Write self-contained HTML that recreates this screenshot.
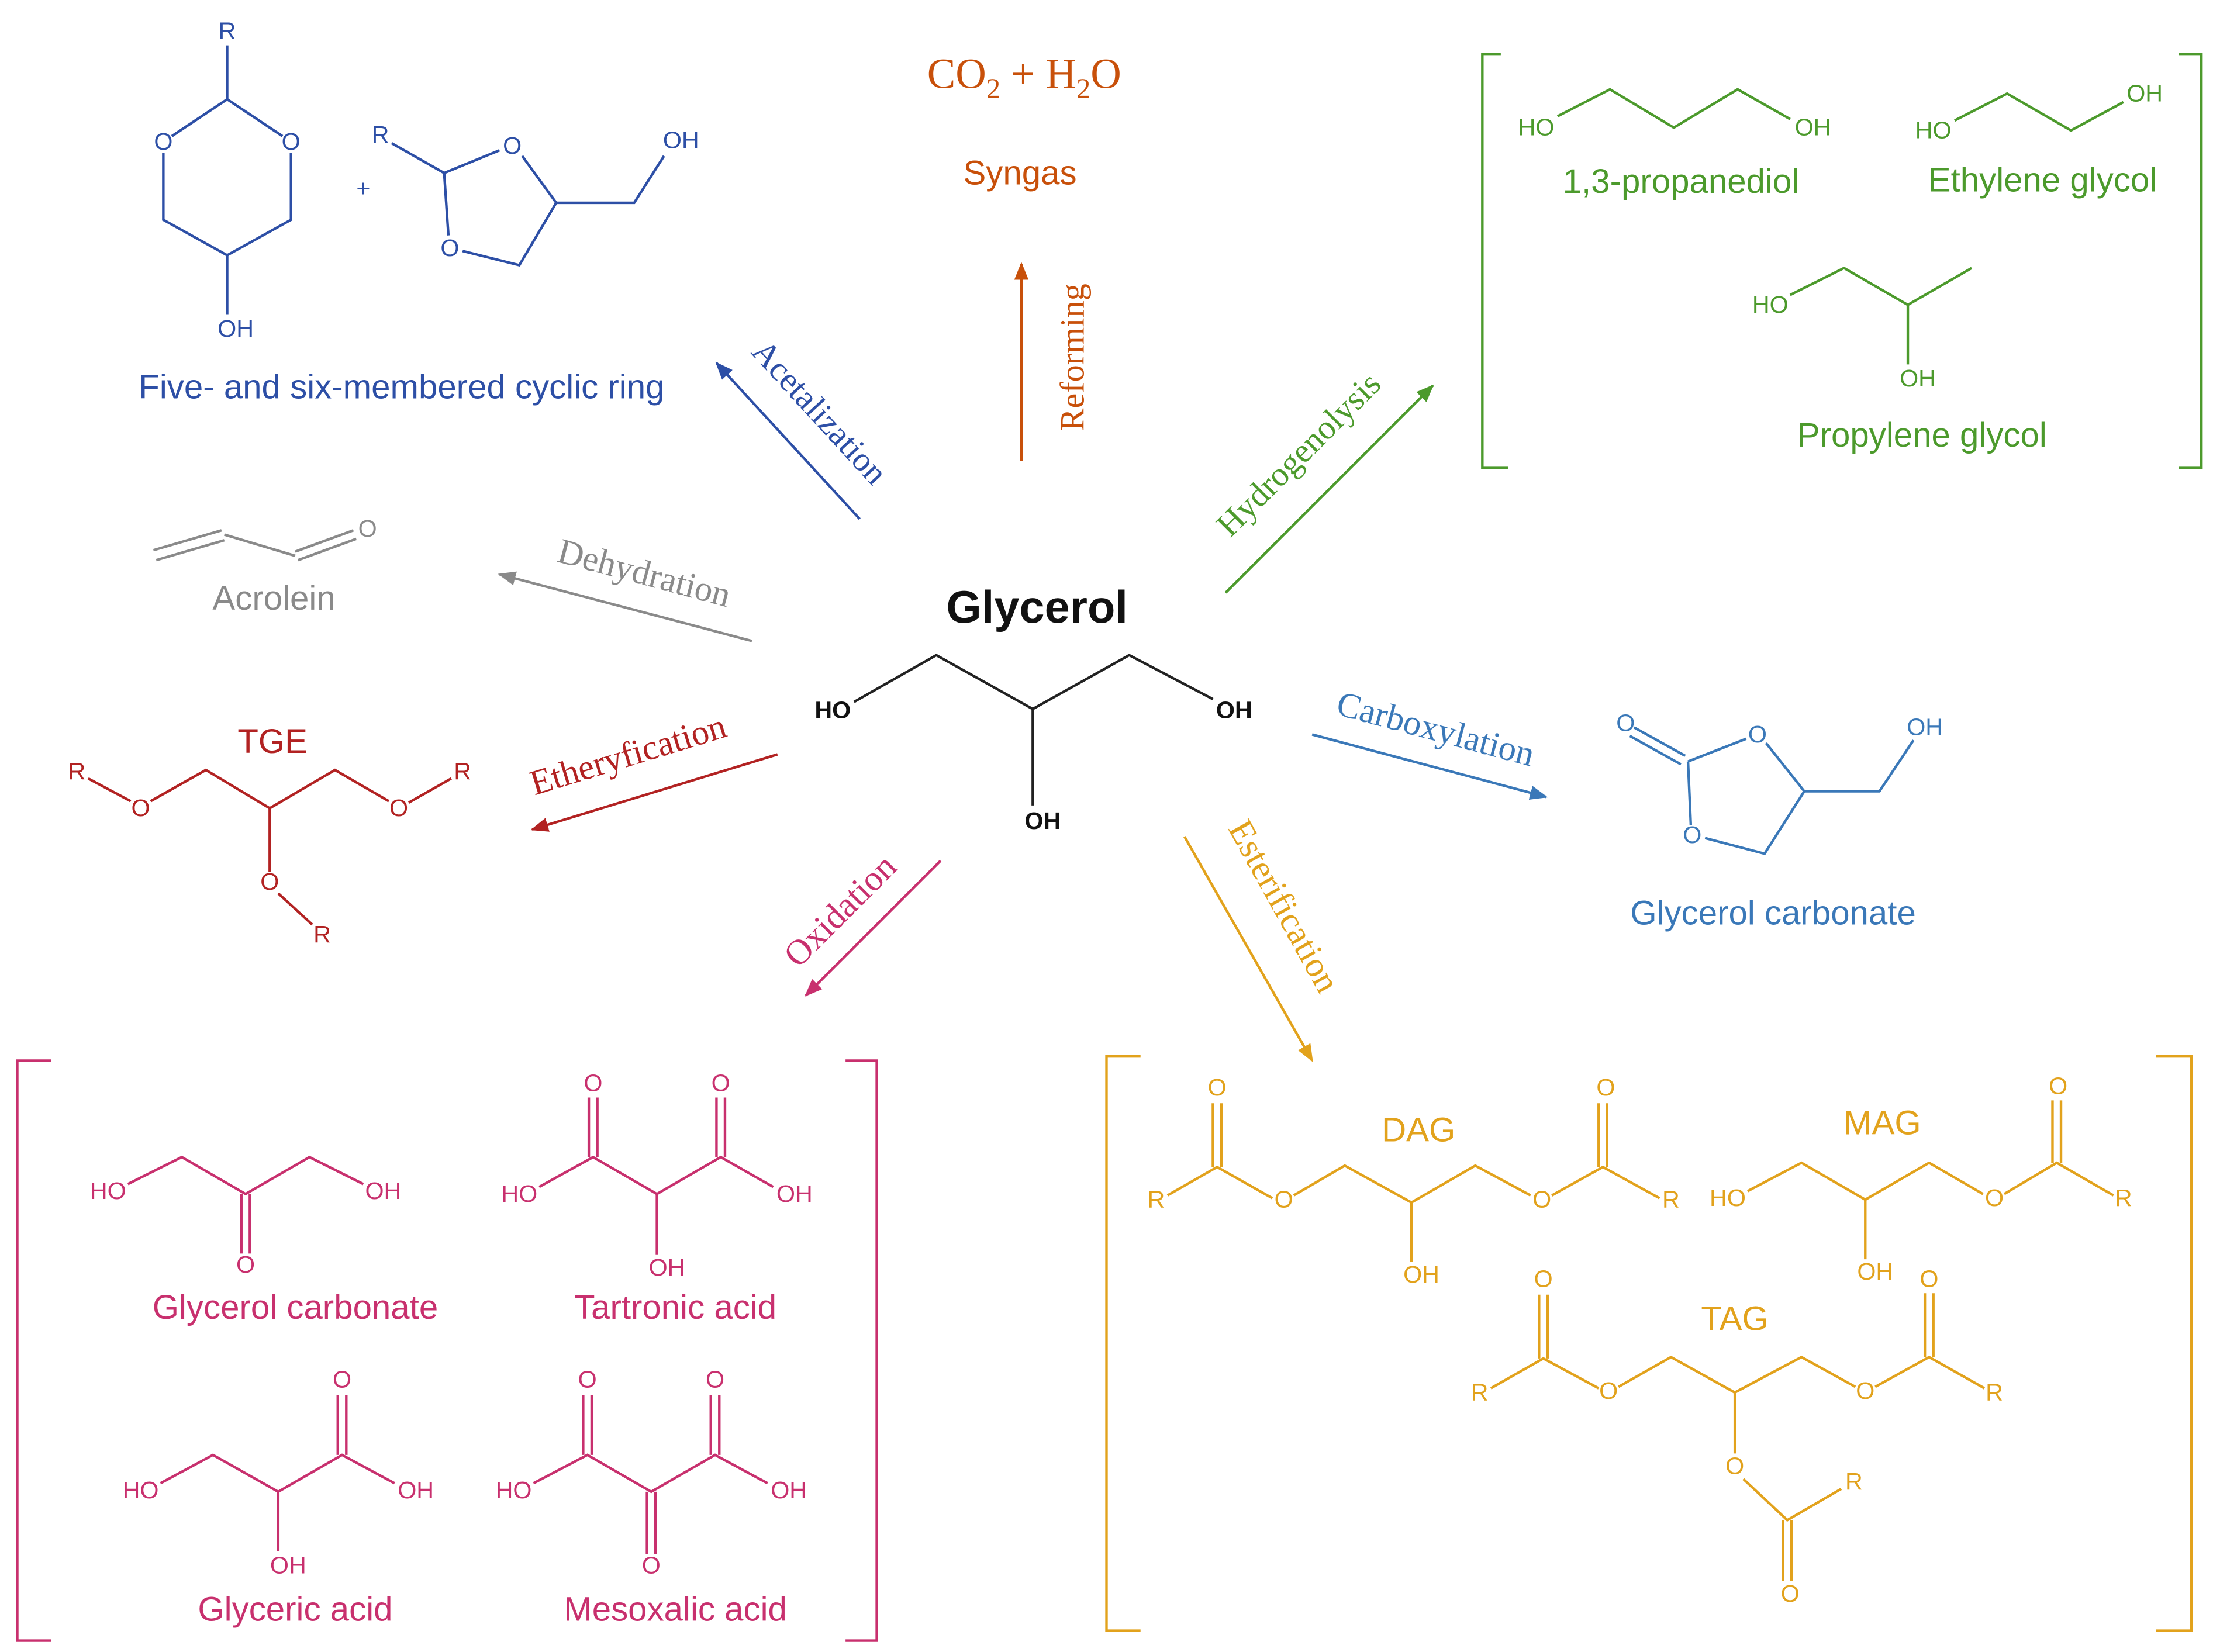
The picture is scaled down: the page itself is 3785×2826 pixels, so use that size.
<!DOCTYPE html>
<html><head><meta charset="utf-8"><style>
html,body{margin:0;padding:0;background:#fff;width:3785px;height:2826px;overflow:hidden}
svg{display:block}
text{font-family:"Liberation Sans",sans-serif}
.s{font-family:"Liberation Serif",serif}
.a{font-size:17px;text-anchor:middle;dominant-baseline:middle}
.l{font-size:24px;text-anchor:middle}
</style></head><body>
<svg width="3785" height="2826" viewBox="0 0 1560 1165" xmlns="http://www.w3.org/2000/svg">
<defs>
<marker id="ah" viewBox="0 0 10 10" refX="9" refY="5" markerWidth="7" markerHeight="7" orient="auto-start-reverse"><path d="M0,1 L10,5 L0,9 z" fill="context-stroke"/></marker>
</defs>
<rect width="1560" height="1165" fill="#fff"/>

<!-- Acetalization (blue) -->
<g stroke="#2d4fa6" stroke-width="1.8" fill="none">
<line x1="160" y1="32" x2="160" y2="70"/>
<polyline points="160,70 199,96"/><polyline points="205,108 205,155 160,180 115,155 115,108"/><polyline points="121,96 160,70"/>
<line x1="160" y1="180" x2="160" y2="222"/>
<polyline points="276,101 313,122 352,106"/><polyline points="368,110 392,143 366,187 326,177"/><line x1="316" y1="166" x2="313" y2="122"/>
<polyline points="392,143 447,143 468,110"/>
<line x1="606" y1="366" x2="505" y2="256" marker-end="url(#ah)"/>
</g>
<g fill="#2d4fa6">
<text x="160" y="23" class="a">R</text><text x="205" y="101" class="a">O</text><text x="115" y="101" class="a">O</text><text x="166" y="233" class="a">OH</text>
<text x="256" y="134" class="a">+</text><text x="268" y="96" class="a">R</text><text x="361" y="104" class="a">O</text><text x="317" y="176" class="a">O</text><text x="480" y="100" class="a">OH</text>
<text x="283" y="281" class="l">Five- and six-membered cyclic ring</text>
<text class="s" font-size="24" transform="translate(572,296) rotate(47.5)" text-anchor="middle">Acetalization</text>
</g>

<!-- Syngas (orange) -->
<g fill="#c8500a">
<text x="722" y="62" class="s" font-size="30" text-anchor="middle">CO<tspan font-size="20" dy="7">2</tspan><tspan dy="-7"> + H</tspan><tspan font-size="20" dy="7">2</tspan><tspan dy="-7">O</tspan></text>
<text x="719" y="130" class="l">Syngas</text>
<text class="s" font-size="24" transform="translate(764,252) rotate(-90)" text-anchor="middle">Reforming</text>
</g>
<line x1="720" y1="325" x2="720" y2="186" stroke="#c8500a" stroke-width="1.8" marker-end="url(#ah)"/>

<!-- Hydrogenolysis (green) -->
<g stroke="#4c9a2c" stroke-width="1.8" fill="none">
<polyline points="1058,38 1045,38 1045,330 1063,330"/><polyline points="1536,38 1552,38 1552,330 1536,330"/>
<polyline points="1098,82 1135,63 1180,90 1225,63 1262,84"/>
<polyline points="1378,85 1415,66 1460,92 1497,72"/>
<polyline points="1262,208 1300,189 1345,215 1390,189"/><line x1="1345" y1="215" x2="1345" y2="257"/>
<line x1="864" y1="418" x2="1010" y2="272" marker-end="url(#ah)"/>
</g>
<g fill="#4c9a2c">
<text x="1083" y="91" class="a">HO</text><text x="1278" y="91" class="a">OH</text>
<text x="1363" y="93" class="a">HO</text><text x="1512" y="67" class="a">OH</text>
<text x="1248" y="216" class="a">HO</text><text x="1352" y="268" class="a">OH</text>
<text x="1185" y="136" class="l">1,3-propanediol</text><text x="1440" y="135" class="l">Ethylene glycol</text><text x="1355" y="315" class="l">Propylene glycol</text>
<text class="s" font-size="24" transform="translate(921,326) rotate(-45)" text-anchor="middle">Hydrogenolysis</text>
</g>

<!-- Dehydration (gray) -->
<g stroke="#8a8a8a" stroke-width="1.8" fill="none">
<line x1="108" y1="388" x2="156" y2="374"/><line x1="110" y1="395" x2="158" y2="381"/>
<line x1="158" y1="377" x2="208" y2="392"/>
<line x1="208" y1="389" x2="249" y2="374"/><line x1="210" y1="395" x2="251" y2="380"/>
<line x1="530" y1="452" x2="352" y2="405" marker-end="url(#ah)"/>
</g>
<g fill="#8a8a8a">
<text x="259" y="374" class="a">O</text>
<text x="193" y="430" class="l">Acrolein</text>
<text class="s" font-size="25" transform="translate(452,412) rotate(15)" text-anchor="middle">Dehydration</text>
</g>

<!-- Glycerol -->
<text x="731" y="439" font-size="32" font-weight="bold" text-anchor="middle" fill="#111">Glycerol</text>
<g stroke="#222" stroke-width="1.8" fill="none">
<polyline points="602,495 660,462 728,500 796,462 855,493"/><line x1="728" y1="500" x2="728" y2="568"/>
</g>
<g fill="#111" font-weight="bold"><text x="587" y="502" class="a">HO</text><text x="870" y="502" class="a">OH</text><text x="735" y="580" class="a">OH</text></g>

<!-- TGE (dark red) -->
<g stroke="#b22222" stroke-width="1.8" fill="none">
<line x1="62" y1="549" x2="92" y2="565"/><polyline points="106,565 145,543 190,570 236,543 274,565"/><line x1="288" y1="566" x2="318" y2="549"/>
<line x1="190" y1="570" x2="190" y2="615"/><line x1="196" y1="630" x2="220" y2="652"/>
<line x1="548" y1="532" x2="375" y2="585" marker-end="url(#ah)"/>
</g>
<g fill="#b22222">
<text x="54" y="545" class="a">R</text><text x="99" y="571" class="a">O</text><text x="281" y="571" class="a">O</text><text x="326" y="545" class="a">R</text><text x="190" y="623" class="a">O</text><text x="227" y="660" class="a">R</text>
<text x="192" y="531" class="l">TGE</text>
<text class="s" font-size="25" transform="translate(445,540) rotate(-17)" text-anchor="middle">Etheryfication</text>
</g>

<!-- Carboxylation (steel blue) -->
<g stroke="#3a78b8" stroke-width="1.8" fill="none">
<line x1="1152" y1="513" x2="1188" y2="533"/><line x1="1149" y1="519" x2="1185" y2="539"/>
<line x1="1190" y1="537" x2="1231" y2="521"/><polyline points="1245,524 1272,558 1325,558 1349,522"/>
<polyline points="1272,558 1244,602 1202,591"/><line x1="1192" y1="582" x2="1190" y2="537"/>
<line x1="925" y1="518" x2="1090" y2="562" marker-end="url(#ah)"/>
</g>
<g fill="#3a78b8">
<text x="1146" y="511" class="a">O</text><text x="1239" y="519" class="a">O</text><text x="1193" y="590" class="a">O</text><text x="1357" y="514" class="a">OH</text>
<text x="1250" y="652" class="l">Glycerol carbonate</text>
<text class="s" font-size="25" transform="translate(1010,522) rotate(15)" text-anchor="middle">Carboxylation</text>
</g>

<!-- Oxidation (magenta) -->
<g stroke="#c8306e" stroke-width="1.8" fill="none">
<polyline points="36,748 12,748 12,1157 36,1157"/><polyline points="596,748 618,748 618,1157 596,1157"/>
<polyline points="90,835 128,816 173,842 218,816 256,835"/><line x1="170" y1="842" x2="170" y2="884"/><line x1="176" y1="842" x2="176" y2="884"/>
<polyline points="380,837 418,816 463,842 508,816 545,837"/>
<line x1="415" y1="816" x2="415" y2="774"/><line x1="421" y1="816" x2="421" y2="774"/>
<line x1="505" y1="816" x2="505" y2="774"/><line x1="511" y1="816" x2="511" y2="774"/>
<line x1="463" y1="842" x2="463" y2="885"/>
<polyline points="113,1046 150,1026 196,1052 241,1026 278,1046"/>
<line x1="238" y1="1026" x2="238" y2="984"/><line x1="244" y1="1026" x2="244" y2="984"/><line x1="196" y1="1052" x2="196" y2="1094"/>
<polyline points="376,1046 414,1026 459,1052 504,1026 541,1046"/>
<line x1="411" y1="1026" x2="411" y2="984"/><line x1="417" y1="1026" x2="417" y2="984"/>
<line x1="501" y1="1026" x2="501" y2="984"/><line x1="507" y1="1026" x2="507" y2="984"/>
<line x1="456" y1="1052" x2="456" y2="1096"/><line x1="462" y1="1052" x2="462" y2="1096"/>
<line x1="663" y1="607" x2="568" y2="702" marker-end="url(#ah)"/>
</g>
<g fill="#c8306e">
<text x="76" y="841" class="a">HO</text><text x="270" y="841" class="a">OH</text><text x="173" y="893" class="a">O</text>
<text x="366" y="843" class="a">HO</text><text x="560" y="843" class="a">OH</text><text x="418" y="765" class="a">O</text><text x="508" y="765" class="a">O</text><text x="470" y="895" class="a">OH</text>
<text x="99" y="1052" class="a">HO</text><text x="293" y="1052" class="a">OH</text><text x="241" y="974" class="a">O</text><text x="203" y="1105" class="a">OH</text>
<text x="362" y="1052" class="a">HO</text><text x="556" y="1052" class="a">OH</text><text x="414" y="974" class="a">O</text><text x="504" y="974" class="a">O</text><text x="459" y="1105" class="a">O</text>
<text x="208" y="930" class="l">Glycerol carbonate</text><text x="476" y="930" class="l">Tartronic acid</text>
<text x="208" y="1143" class="l">Glyceric acid</text><text x="476" y="1143" class="l">Mesoxalic acid</text>
<text class="s" font-size="25" transform="translate(598,648) rotate(-45)" text-anchor="middle">Oxidation</text>
</g>

<!-- Esterification (yellow-orange) -->
<g stroke="#e2a21c" stroke-width="1.8" fill="none">
<polyline points="804,745 780,745 780,1150 804,1150"/><polyline points="1520,745 1545,745 1545,1150 1520,1150"/>
<polyline points="823,843 858,823 897,845"/><line x1="855" y1="823" x2="855" y2="778"/><line x1="861" y1="823" x2="861" y2="778"/>
<polyline points="912,843 948,822 995,848 1040,822 1079,843"/><line x1="995" y1="848" x2="995" y2="890"/>
<polyline points="1094,843 1130,823 1170,845"/><line x1="1127" y1="823" x2="1127" y2="778"/><line x1="1133" y1="823" x2="1133" y2="778"/>
<polyline points="1232,840 1270,820 1315,846 1360,820 1398,842"/><line x1="1315" y1="846" x2="1315" y2="888"/>
<polyline points="1413,842 1450,820 1490,843"/><line x1="1447" y1="820" x2="1447" y2="776"/><line x1="1453" y1="820" x2="1453" y2="776"/>
<polyline points="1051,979 1088,958 1127,979"/><line x1="1085" y1="958" x2="1085" y2="913"/><line x1="1091" y1="958" x2="1091" y2="913"/>
<polyline points="1141,978 1178,957 1223,982 1270,957 1308,978"/><line x1="1223" y1="982" x2="1223" y2="1025"/>
<polyline points="1322,978 1360,957 1399,979"/><line x1="1357" y1="957" x2="1357" y2="912"/><line x1="1363" y1="957" x2="1363" y2="912"/>
<polyline points="1229,1043 1260,1072 1298,1050"/><line x1="1257" y1="1072" x2="1257" y2="1115"/><line x1="1263" y1="1072" x2="1263" y2="1115"/>
<line x1="835" y1="590" x2="925" y2="748" marker-end="url(#ah)"/>
</g>
<g fill="#e2a21c">
<text x="815" y="847" class="a">R</text><text x="858" y="768" class="a">O</text><text x="905" y="847" class="a">O</text><text x="1087" y="847" class="a">O</text><text x="1132" y="768" class="a">O</text><text x="1178" y="847" class="a">R</text><text x="1002" y="900" class="a">OH</text>
<text x="1218" y="846" class="a">HO</text><text x="1406" y="846" class="a">O</text><text x="1451" y="767" class="a">O</text><text x="1497" y="846" class="a">R</text><text x="1322" y="898" class="a">OH</text>
<text x="1043" y="983" class="a">R</text><text x="1088" y="903" class="a">O</text><text x="1134" y="982" class="a">O</text><text x="1315" y="982" class="a">O</text><text x="1360" y="903" class="a">O</text><text x="1406" y="983" class="a">R</text>
<text x="1223" y="1035" class="a">O</text><text x="1307" y="1046" class="a">R</text><text x="1262" y="1125" class="a">O</text>
<text x="1000" y="805" class="l">DAG</text><text x="1327" y="800" class="l">MAG</text><text x="1223" y="938" class="l">TAG</text>
<text class="s" font-size="25" transform="translate(898,643) rotate(61)" text-anchor="middle">Esterification</text>
</g>
</svg>
</body></html>
